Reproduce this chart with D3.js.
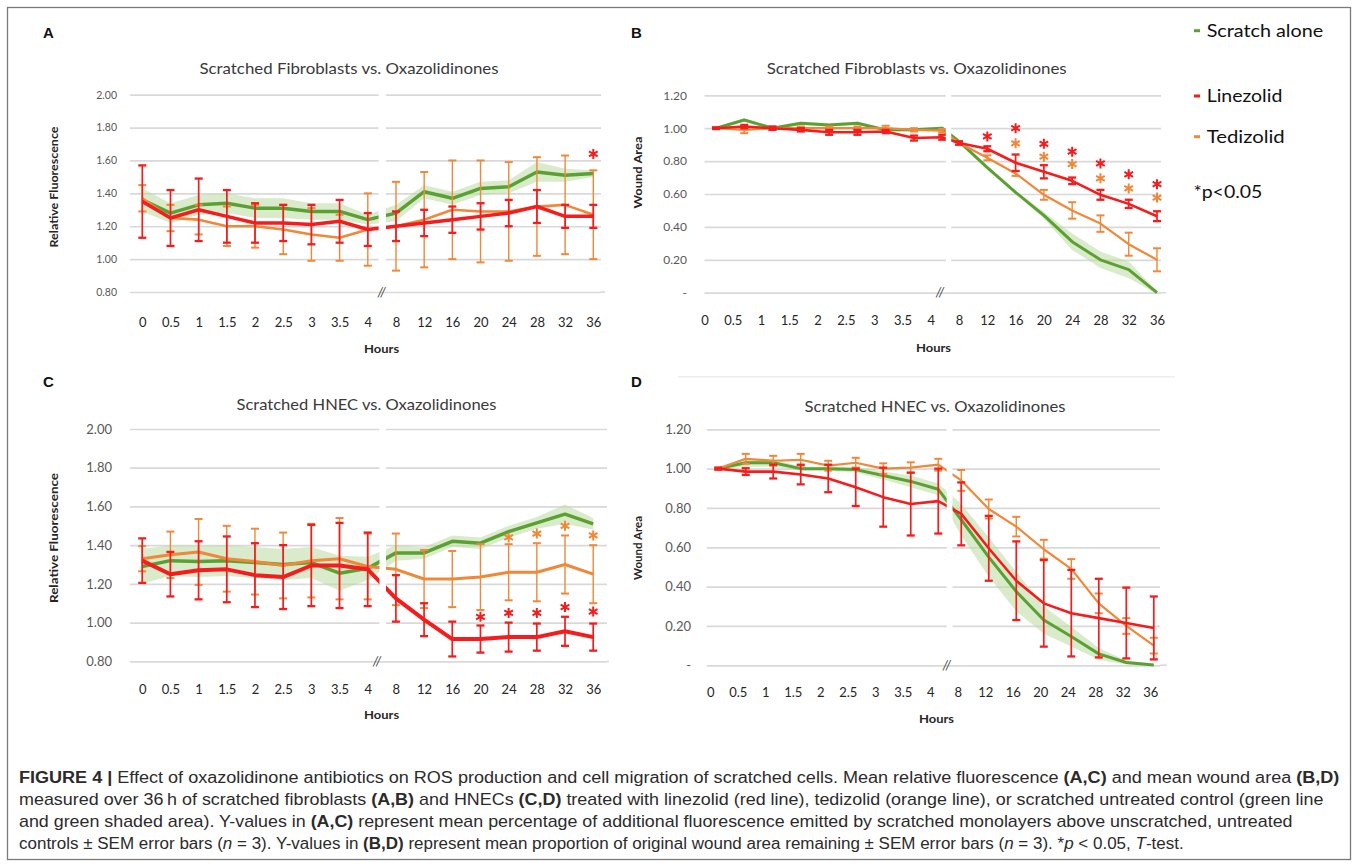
<!DOCTYPE html>
<html><head><meta charset="utf-8">
<script src="https://cdn.jsdelivr.net/npm/d3@7"></script>
<style>body{margin:0;background:#fff}svg{display:block}</style>
</head><body>
<svg id="c" width="1357" height="866"></svg>
<script>
// ---------- DATA ----------
const categories = ["0","0.5","1","1.5","2","2.5","3","3.5","4","8","12","16","20","24","28","32","36"];

const fluorTicks = [0.8,1.0,1.2,1.4,1.6,1.8,2.0];
const fluorTickLabels = ["0.80","1.00","1.20","1.40","1.60","1.80","2.00"];
const woundTicks = [0,0.2,0.4,0.6,0.8,1.0,1.2];
const woundTickLabels = ["-","0.20","0.40","0.60","0.80","1.00","1.20"];

// Panel A: fibroblasts, relative fluorescence
const scratchA = [1.36,1.28,1.33,1.34,1.31,1.31,1.29,1.29,1.24,1.28,1.41,1.37,1.43,1.44,1.53,1.51,1.52];
const scratchA_sem = [0.07,0.06,0.06,0.06,0.06,0.06,0.05,0.05,0.03,0.05,0.04,0.04,0.04,0.04,0.06,0.04,0.02];
const linezolidA = [1.35,1.25,1.30,1.26,1.22,1.22,1.21,1.23,1.18,1.20,1.22,1.24,1.26,1.28,1.32,1.26,1.26];
const linezolidA_sem = [0.22,0.17,0.19,0.16,0.12,0.11,0.12,0.13,0.10,0.09,0.08,0.08,0.08,0.08,0.10,0.07,0.07];
const tedizolidA = [1.37,1.25,1.24,1.20,1.20,1.18,1.15,1.13,1.18,1.20,1.24,1.30,1.29,1.29,1.32,1.33,1.27];
const tedizolidA_sem = [0.08,0.08,0.09,0.12,0.13,0.15,0.16,0.14,0.22,0.27,0.29,0.30,0.31,0.30,0.30,0.30,0.27];
const starsA_linezolid = ["36"], starsA_linezolidY = [1.64];

// Panel B: fibroblasts, wound area
const scratchB = [1.00,1.05,1.00,1.03,1.02,1.03,0.99,0.99,1.00,0.92,0.76,0.61,0.47,0.31,0.20,0.14,0.00];
const scratchB_sem = [0.005,0.01,0.01,0.01,0.01,0.01,0.01,0.01,0.01,0.01,0.01,0.01,0.02,0.05,0.05,0.05,0.01];
const linezolidB = [1.00,1.01,1.00,0.99,0.975,0.975,0.98,0.94,0.945,0.91,0.875,0.79,0.735,0.68,0.595,0.54,0.465];
const linezolidB_sem = [0.005,0.01,0.01,0.01,0.015,0.015,0.01,0.015,0.015,0.01,0.015,0.05,0.04,0.02,0.03,0.025,0.03];
const tedizolidB = [1.00,0.99,1.00,1.00,1.00,1.00,1.00,0.99,0.985,0.91,0.82,0.725,0.595,0.50,0.42,0.295,0.20];
const tedizolidB_sem = [0.005,0.02,0.01,0.01,0.01,0.01,0.015,0.01,0.01,0.01,0.015,0.015,0.03,0.05,0.05,0.07,0.07];
const starsB_linezolid = ["12","16","20","24","28","32","36"], starsB_linezolidY = [0.95,1.00,0.905,0.857,0.786,0.72,0.66];
const starsB_tedizolid = ["16","20","24","28","32","36"], starsB_tedizolidY = [0.908,0.827,0.782,0.695,0.634,0.578];

// Panel C: HNEC, relative fluorescence
const scratchC = [1.29,1.32,1.315,1.32,1.31,1.30,1.31,1.255,1.28,1.36,1.36,1.42,1.41,1.47,1.515,1.56,1.51];
const scratchC_sem = [0.09,0.08,0.08,0.08,0.08,0.08,0.08,0.09,0.06,0.04,0.03,0.03,0.03,0.03,0.03,0.05,0.03];
const linezolidC = [1.32,1.25,1.27,1.275,1.245,1.235,1.295,1.295,1.275,1.125,1.015,0.915,0.915,0.925,0.925,0.955,0.925];
const linezolidC_sem = [0.115,0.115,0.15,0.17,0.165,0.165,0.21,0.22,0.19,0.12,0.085,0.09,0.07,0.075,0.07,0.075,0.07];
const tedizolidC = [1.33,1.35,1.365,1.33,1.315,1.295,1.32,1.33,1.29,1.275,1.225,1.225,1.235,1.26,1.26,1.30,1.25];
const tedizolidC_sem = [0.065,0.12,0.17,0.17,0.17,0.17,0.19,0.21,0.17,0.185,0.15,0.145,0.17,0.145,0.15,0.15,0.15];
const starsC_linezolid = ["20","24","28","32","36"], starsC_linezolidY = [1.03,1.05,1.05,1.08,1.057];
const starsC_tedizolid = ["24","28","32","36"], starsC_tedizolidY = [1.44,1.46,1.50,1.45];

// Panel D: HNEC, wound area
const scratchD = [1.00,1.03,1.03,1.00,1.00,0.995,0.965,0.935,0.895,0.74,0.55,0.375,0.23,0.146,0.058,0.014,0.002];
const scratchD_sem = [0.005,0.02,0.02,0.01,0.01,0.015,0.02,0.03,0.03,0.08,0.10,0.10,0.07,0.05,0.03,0.01,0.005];
const linezolidD = [1.00,0.985,0.985,0.97,0.95,0.905,0.855,0.82,0.835,0.77,0.595,0.43,0.315,0.265,0.24,0.215,0.19];
const linezolidD_sem = [0.005,0.017,0.035,0.05,0.07,0.095,0.15,0.16,0.165,0.16,0.165,0.20,0.22,0.22,0.20,0.18,0.16];
const tedizolidD = [1.00,1.05,1.04,1.045,1.015,1.03,1.00,1.005,1.02,0.94,0.795,0.705,0.59,0.49,0.315,0.20,0.10];
const tedizolidD_sem = [0.005,0.025,0.025,0.03,0.025,0.025,0.027,0.027,0.03,0.053,0.048,0.05,0.048,0.05,0.05,0.04,0.04];

const seriesNames = ["Scratch alone","Linezolid","Tedizolid"];

// ---------- STYLE ----------
const GREEN = "#5ba032", RED = "#f41c1c", ORANGE = "#ef8838", BAND = "#b9dba0", GRID = "#d9d9d9";
const CH = "Lato, 'Open Sans', sans-serif";
const svg = d3.select("#c");
svg.append("rect").attr("width",1357).attr("height",866).attr("fill","#fff");
svg.append("rect").attr("x",7.5).attr("y",7.5).attr("width",1343).attr("height",852)
  .attr("fill","none").attr("stroke","#7a7a7a").attr("stroke-width",1.3);

function fit(sel, w){ sel.attr("textLength", w).attr("lengthAdjust","spacingAndGlyphs"); return sel; }

function asterisk(g, x, y, color){
  const r = 5;
  const t = r/2, u = t*Math.sqrt(3);
  g.append("path").attr("d",`M${x},${y-r}L${x},${y+r}M${x-u},${y-t}L${x+u},${y+t}M${x-u},${y+t}L${x+u},${y-t}`)
    .attr("stroke",color).attr("stroke-width",2).attr("fill","none");
}

function drawPanel(cfg){
  const g = svg.append("g");
  const y = d3.scaleLinear().domain(cfg.yDomain).range([cfg.yBot, cfg.yTop]);
  const xl = d3.scalePoint().domain(categories).range(cfg.labRange);
  const xd = (i) => xl(categories[i]) + (i <= 8 ? cfg.offL : cfg.offR);

  const ya = d3.axisLeft(y).tickValues(cfg.ticks).tickFormat((d,i)=>cfg.tickLabels[i])
    .tickSize(-(cfg.gx1-cfg.gx0)).tickPadding(cfg.gx0 - cfg.yLabRight);
  const yg = g.append("g").attr("transform",`translate(${cfg.gx0},0)`).call(ya);
  yg.select(".domain").remove();
  yg.selectAll(".tick line").attr("stroke",GRID).attr("stroke-width",1.7);
  yg.selectAll(".tick text").attr("fill","#595959").attr("font-family",CH).attr("font-size",cfg.yLabSize);
  g.append("line").attr("x1",cfg.gx1).attr("x2",cfg.axisEnd).attr("y1",y(cfg.ticks[0])).attr("y2",y(cfg.ticks[0]))
    .attr("stroke",GRID).attr("stroke-width",1.7);

  const xa = d3.axisBottom(xl).tickSize(0).tickPadding(0);
  const xg = g.append("g").attr("transform",`translate(0,${cfg.labY})`).call(xa);
  xg.select(".domain").remove();
  xg.selectAll(".tick text").attr("dy",0).attr("fill","#262626").attr("font-family",CH).attr("font-size",13);

  const area = d3.area().x((d,i)=>xd(i)).y0((d,i)=>y(d - cfg.gs[i])).y1((d,i)=>y(d + cfg.gs[i]));
  g.append("path").datum(cfg.g).attr("d",area).attr("fill",BAND).attr("opacity",0.55);
  const line = d3.line().x((d,i)=>xd(i)).y(d=>y(d));
  g.append("path").datum(cfg.g).attr("d",line).attr("fill","none").attr("stroke",GREEN).attr("stroke-width",cfg.lw[0]).attr("stroke-linejoin","round");

  function errs(vals, sem, color, w){
    const eg = g.append("g").attr("stroke",color).attr("stroke-width",w);
    vals.forEach((v,i)=>{
      const x = xd(i), y1 = y(v+sem[i]), y2 = y(v-sem[i]);
      eg.append("line").attr("x1",x).attr("x2",x).attr("y1",y1).attr("y2",y2);
      eg.append("line").attr("x1",x-4).attr("x2",x+4).attr("y1",y1).attr("y2",y1).attr("stroke-width",w+0.6);
      eg.append("line").attr("x1",x-4).attr("x2",x+4).attr("y1",y2).attr("y2",y2).attr("stroke-width",w+0.6);
    });
  }
  errs(cfg.o, cfg.os, ORANGE, 1.4);
  g.append("path").datum(cfg.o).attr("d",line).attr("fill","none").attr("stroke",ORANGE).attr("stroke-width",cfg.lw[2]).attr("stroke-linejoin","round");
  errs(cfg.r, cfg.rs, RED, 1.7);
  g.append("path").datum(cfg.r).attr("d",line).attr("fill","none").attr("stroke",RED).attr("stroke-width",cfg.lw[1]).attr("stroke-linejoin","round");

  g.append("rect").attr("x",cfg.gap[0]).attr("width",cfg.gap[1]-cfg.gap[0])
    .attr("y",cfg.yTop-4).attr("height",cfg.yBot-cfg.yTop+1).attr("fill","#fff");
  g.append("text").attr("x",cfg.breakX).attr("y",y(cfg.ticks[0])+4.5).attr("text-anchor","middle")
    .attr("font-family",CH).attr("font-size",13).attr("font-style","italic").attr("fill","#404040").text("//");

  (cfg.stars||[]).forEach(s=>{
    s.cats.forEach((c,k)=>{ const i = categories.indexOf(c); asterisk(g, xd(i), y(s.vals[k]), s.color); });
  });

  fit(g.append("text").attr("x",cfg.title[1]).attr("y",cfg.title[2]).attr("text-anchor","middle")
    .attr("font-family",CH).attr("font-size",15).attr("fill","#3a3a3a").text(cfg.title[0]), cfg.title[3]);
  fit(g.append("text").attr("x",cfg.hours[0]).attr("y",cfg.hours[1]).attr("text-anchor","middle")
    .attr("font-family",CH).attr("font-weight","bold").attr("font-size",12).attr("fill","#262626").text("Hours"), 35);
  fit(g.append("text").attr("transform",`translate(${cfg.yTitle[1]},${cfg.yTitle[2]}) rotate(-90)`).attr("text-anchor","middle")
    .attr("dy","0.35em").attr("font-family",CH).attr("font-weight","bold").attr("font-size",11.5).attr("fill","#262626").text(cfg.yTitle[0]), cfg.yTitle[3]);
  g.append("text").attr("x",cfg.letter[1]).attr("y",cfg.letter[2]).attr("font-family","'Liberation Sans', Arial, sans-serif")
    .attr("font-weight","bold").attr("font-size",15).attr("fill","#111").text(cfg.letter[0]);
}

drawPanel({letter:["A",43,37.5], title:["Scratched Fibroblasts vs. Oxazolidinones",349,74,299],
  yTitle:["Relative Fluorescence",54,187,121], hours:[381.6,353],
  yDomain:[0.8,2.0], yTop:94.7, yBot:292, ticks:fluorTicks, tickLabels:fluorTickLabels, yLabRight:117, yLabSize:10.5,
  gx0:130, gx1:601, axisEnd:605, gap:[378.6,386], breakX:381.6,
  labRange:[142.3,593.3], labY:327, offL:0, offR:0, lw:[3.5,3.5,2.6],
  g:scratchA, gs:scratchA_sem, r:linezolidA, rs:linezolidA_sem, o:tedizolidA, os:tedizolidA_sem,
  stars:[{cats:starsA_linezolid, vals:starsA_linezolidY, color:RED}]});

drawPanel({letter:["B",631,37.5], title:["Scratched Fibroblasts vs. Oxazolidinones",916.7,74,300],
  yTitle:["Wound Area",637.5,172.5,72], hours:[933.5,352],
  yDomain:[0,1.2], yTop:95.3, yBot:292.7, ticks:woundTicks, tickLabels:woundTickLabels, yLabRight:687, yLabSize:12,
  gx0:704.5, gx1:1161, axisEnd:1166, gap:[945.8,951.2], breakX:940,
  labRange:[704.5,1157], labY:325, offL:11.5, offR:0, lw:[3,2.6,2.2],
  g:scratchB, gs:scratchB_sem, r:linezolidB, rs:linezolidB_sem, o:tedizolidB, os:tedizolidB_sem,
  stars:[{cats:starsB_linezolid, vals:starsB_linezolidY, color:RED},{cats:starsB_tedizolid, vals:starsB_tedizolidY, color:ORANGE}]});

drawPanel({letter:["C",43,387], title:["Scratched HNEC vs. Oxazolidinones",366.5,410,260],
  yTitle:["Relative Fluorescence",54,538,130], hours:[381.6,719],
  yDomain:[0.8,2.0], yTop:429, yBot:661.3, ticks:fluorTicks, tickLabels:fluorTickLabels, yLabRight:112, yLabSize:13,
  gx0:130, gx1:607, axisEnd:609, gap:[379.5,386], breakX:377,
  labRange:[142.2,593.2], labY:694, offL:0, offR:0, lw:[3.5,4,3],
  g:scratchC, gs:scratchC_sem, r:linezolidC, rs:linezolidC_sem, o:tedizolidC, os:tedizolidC_sem,
  stars:[{cats:starsC_linezolid, vals:starsC_linezolidY, color:RED},{cats:starsC_tedizolid, vals:starsC_tedizolidY, color:ORANGE}]});

drawPanel({letter:["D",631,387], title:["Scratched HNEC vs. Oxazolidinones",935,412,261],
  yTitle:["Wound Area",637.5,548,64], hours:[936.5,723],
  yDomain:[0,1.2], yTop:429.3, yBot:665.3, ticks:woundTicks, tickLabels:woundTickLabels, yLabRight:691, yLabSize:13,
  gx0:706.7, gx1:1160, axisEnd:1166.7, gap:[946.7,952.5], breakX:946.7,
  labRange:[710.2,1150.3], labY:697, offL:8, offR:3.5, lw:[3,2.6,2.2],
  g:scratchD, gs:scratchD_sem, r:linezolidD, rs:linezolidD_sem, o:tedizolidD, os:tedizolidD_sem});

svg.append("line").attr("x1",678).attr("x2",1175).attr("y1",376.7).attr("y2",376.7).attr("stroke","#eeeeee").attr("stroke-width",1.5);

// legend
const legY = [30.7, 96, 136.7], legCol = [GREEN, RED, ORANGE], legW = [116.5, 75.6, 78];
seriesNames.forEach((n,i)=>{
  svg.append("rect").attr("x",1194).attr("y",legY[i]-1.5).attr("width",6).attr("height",3).attr("fill",legCol[i]);
  fit(svg.append("text").attr("x",1206.7).attr("y",legY[i]).attr("dy","0.35em").attr("font-family",CH)
    .attr("font-size",18).attr("fill","#111").text(n), legW[i]);
});
fit(svg.append("text").attr("x",1193.4).attr("y",191.7).attr("dy","0.35em").attr("font-family",CH)
  .attr("font-size",18).attr("fill","#111").text("*p<0.05"), 69);

// caption
const capLines = [
  [["FIGURE 4 | ","b"],["Effect of oxazolidinone antibiotics on ROS production and cell migration of scratched cells. Mean relative fluorescence ",""],["(A,C)","b"],[" and mean wound area ",""],["(B,D)","b"]],
  [["measured over 36\u2009h of scratched fibroblasts ",""],["(A,B)","b"],[" and HNECs ",""],["(C,D)","b"],[" treated with linezolid (red line), tedizolid (orange line), or scratched untreated control (green line",""]],
  [["and green shaded area). Y-values in ",""],["(A,C)","b"],[" represent mean percentage of additional fluorescence emitted by scratched monolayers above unscratched, untreated",""]],
  [["controls \u00b1 SEM error bars (",""],["n","i"],[" = 3). Y-values in ",""],["(B,D)","b"],[" represent mean proportion of original wound area remaining \u00b1 SEM error bars (",""],["n","i"],[" = 3). *",""],["p","i"],[" < 0.05, ",""],["T","i"],["-test.",""]]
];
const capY = [783, 805, 827, 849], capW = [1321, 1305, 1275, 1165];
capLines.forEach((segs,k)=>{
  const t = svg.append("text").attr("x",19).attr("y",capY[k]).attr("font-family","'Liberation Sans', Arial, sans-serif")
    .attr("font-size",16).attr("fill","#2b2b2b");
  segs.forEach(s=>{
    const ts = t.append("tspan").text(s[0]);
    if(s[1]==="b") ts.attr("font-weight","bold");
    if(s[1]==="i") ts.attr("font-style","italic");
  });
  const w = t.node().getComputedTextLength();
  const sx = capW[k]/w;
  t.attr("transform",`translate(19,0) scale(${sx},1) translate(-19,0)`);
});
</script>
</body></html>
